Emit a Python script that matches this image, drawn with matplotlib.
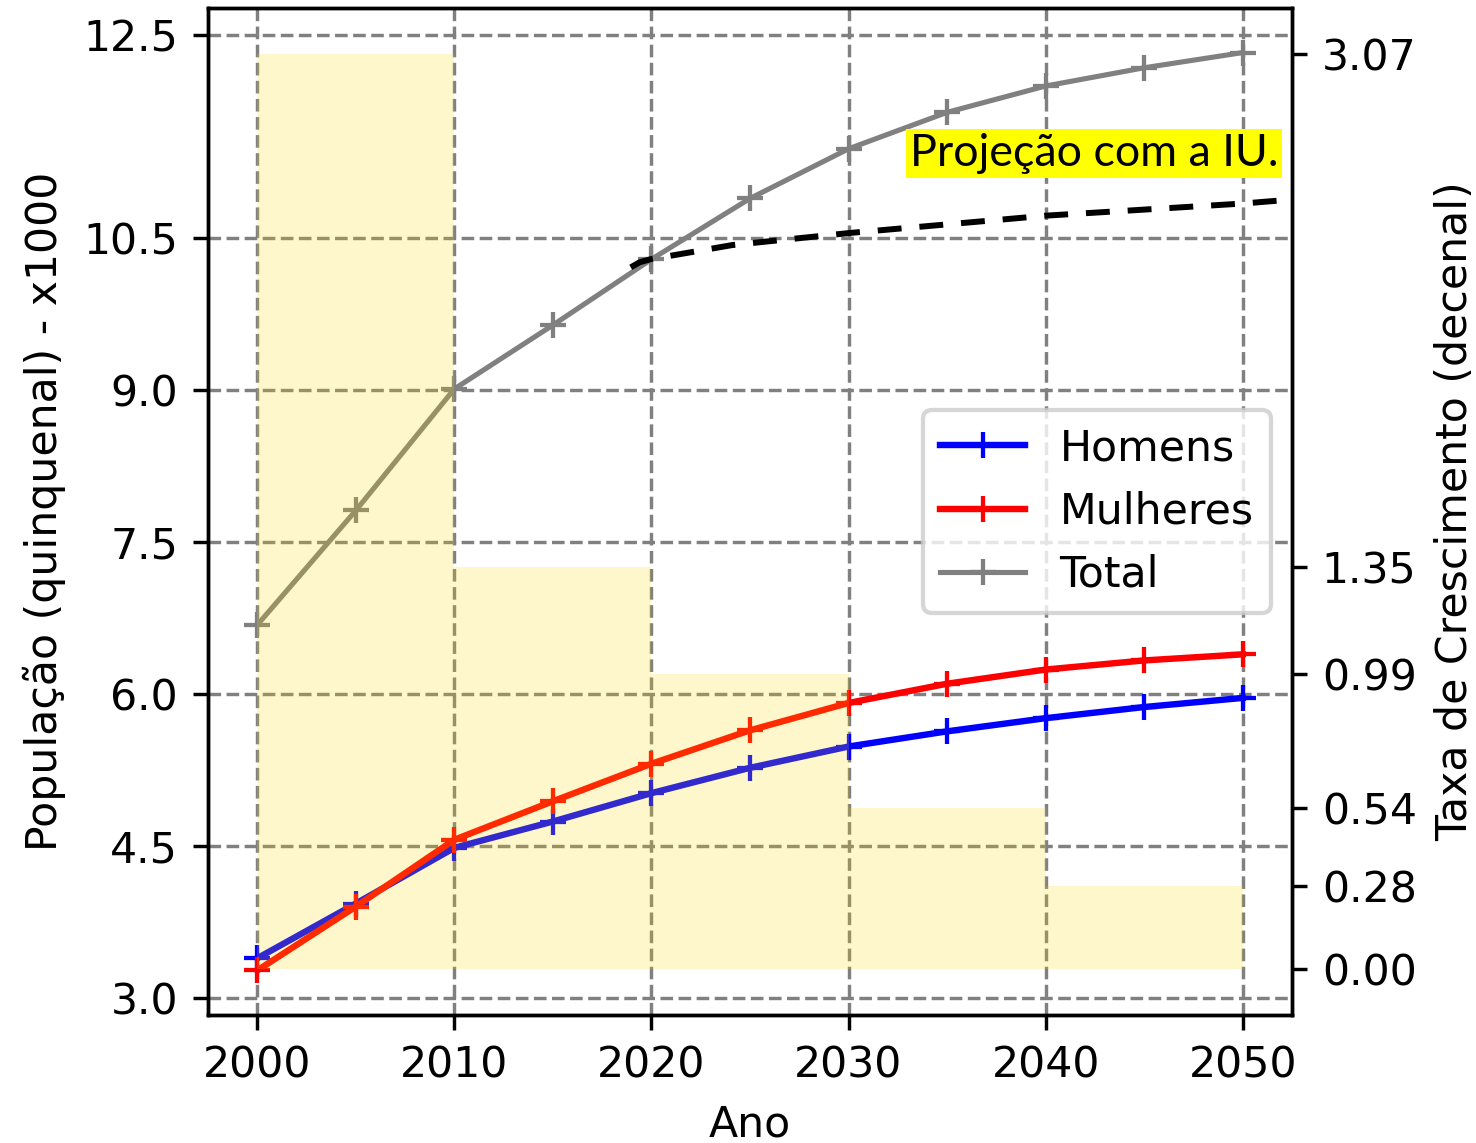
import matplotlib
matplotlib.use('Agg')
import matplotlib.pyplot as plt
from matplotlib.ticker import FormatStrFormatter

# ---------------- data ----------------
anos = [2000, 2005, 2010, 2015, 2020, 2025, 2030, 2035, 2040, 2045, 2050]
homens = [3.39, 3.93, 4.48, 4.74, 5.02, 5.27, 5.48, 5.63, 5.76, 5.87, 5.96]
mulheres = [3.27, 3.90, 4.56, 4.94, 5.31, 5.64, 5.91, 6.10, 6.24, 6.33, 6.39]
total = [6.68, 7.81, 9.01, 9.64, 10.29, 10.89, 11.38, 11.74, 12.00, 12.18, 12.33]

decadas = [2000, 2010, 2020, 2030, 2040]
taxa = [3.07, 1.35, 0.99, 0.54, 0.28]

proj_anos = [2018.95, 2019.4, 2019.95, 2024.1, 2030.1, 2040.0, 2050.0, 2051.9]
proj_vals = [10.21, 10.26, 10.29, 10.43, 10.55, 10.72, 10.84, 10.87]

yticks_esq = [3.0, 4.5, 6.0, 7.5, 9.0, 10.5, 12.5]
xticks = [2000, 2010, 2020, 2030, 2040, 2050]
yticks_dir = [0.00] + sorted(taxa)

# ---------------- figure ----------------
DPI = 307
fig = plt.figure(figsize=(1476 / DPI, 1143 / DPI), dpi=DPI)
ax = fig.add_axes([208 / 1476, 1 - 1015 / 1143, (1292 - 208) / 1476, (1015 - 8) / 1143])

ax.plot(anos, homens, color='blue', marker='+', lw=1.5, label='Homens')
ax.plot(anos, mulheres, color='red', marker='+', lw=1.5, label='Mulheres')
ax.plot(anos, total, color='gray', marker='+', lw=1.2, label='Total')
ax.plot(proj_anos, proj_vals, color='black', lw=1.4, dashes=(4, 3), zorder=3)

ax.set_xlim(1997.5, 2052.5)
ax.set_ylim(2.83, 12.77)
ax.set_xticks(xticks)
ax.set_yticks(yticks_esq)
ax.yaxis.set_major_formatter(FormatStrFormatter('%.1f'))
ax.grid(True, linestyle='--', color='gray', lw=0.8)
ax.set_xlabel('Ano')
ax.set_ylabel('População (quinquenal) - x1000')
ax.legend(loc='center right')

ax.text(2042.45, 11.33, 'Projeção com a IU.', fontfamily='Lato', fontsize=10.5,
        ha='center', va='center', zorder=6,
        bbox=dict(facecolor='yellow', edgecolor='none', pad=0.9))

ax2 = ax.twinx()
ax2.bar(decadas, taxa, width=10, align='edge', color='gold', alpha=0.2, linewidth=0)
ax2.set_ylim(-0.1535, 3.2235)
ax2.set_yticks(yticks_dir)
ax2.yaxis.set_major_formatter(FormatStrFormatter('%.2f'))
ax2.set_ylabel('Taxa de Crescimento (decenal)')

fig.savefig('out.png', dpi=DPI)
